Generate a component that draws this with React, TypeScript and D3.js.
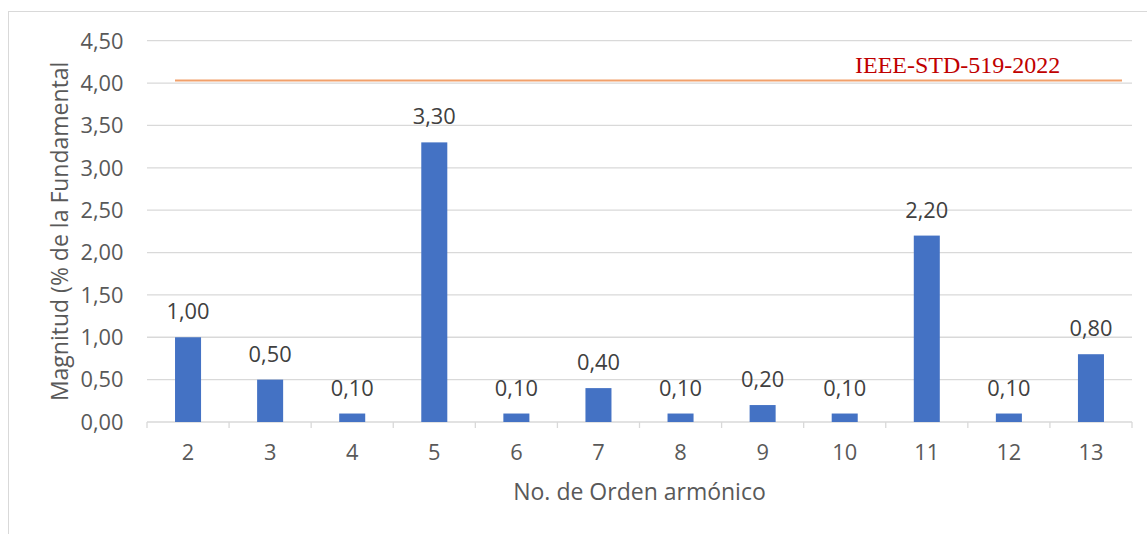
import React from "react";
import * as d3 from "d3";

// Harmonic orders and their magnitudes (% of the fundamental)
const harmonicOrders: string[] = ["2", "3", "4", "5", "6", "7", "8", "9", "10", "11", "12", "13"];
const magnitudes: number[] = [1.0, 0.5, 0.1, 3.3, 0.1, 0.4, 0.1, 0.2, 0.1, 2.2, 0.1, 0.8];
const yTicks: number[] = [0, 0.5, 1, 1.5, 2, 2.5, 3, 3.5, 4, 4.5];
const limitValue = 4.03;
const limitLabel = "IEEE-STD-519-2022";
const yTitle = "Magnitud (% de la Fundamental";
const xTitle = "No. de Orden armónico";

const W = 1147;
const H = 534;
const plot = { left: 147, right: 1132, top: 40.7, bottom: 422 };

const locale = d3.formatLocale({ decimal: ",", thousands: ".", grouping: [3], currency: ["", ""] });
const fmt = locale.format(".2f");

const FONT = "'Open Sans', 'Noto Sans', sans-serif";
const TEXT = "#595959";
const GRID = "#D9D9D9";
const TICK_SIZE = 21.8;
const TITLE_SIZE = 23;

export default function App() {
  const x = d3.scaleBand<string>().domain(harmonicOrders).range([plot.left, plot.right]).padding(0);
  const y = d3.scaleLinear().domain([0, 4.5]).range([plot.bottom, plot.top]);
  const slot = x.bandwidth();
  const barW = slot * 0.317;

  const boundaries = d3.range(harmonicOrders.length + 1).map((i) => plot.left + i * slot);

  return (
    <svg
      width={W}
      height={H}
      style={{ position: "absolute", left: 0, top: 0, display: "block", background: "#fff" }}
    >
      <rect x={8.5} y={11.5} width={W + 20} height={H + 20} fill="#fff" stroke={GRID} strokeWidth={1} />

      {/* horizontal gridlines and value axis labels */}
      {yTicks.map((t) => (
        <g key={t}>
          {t > 0 && (
            <line x1={plot.left} x2={plot.right} y1={y(t)} y2={y(t)} stroke={GRID} strokeWidth={1.3} />
          )}
          <text
            x={123.5}
            y={y(t)}
            dy="0.36em"
            textAnchor="end"
            fontFamily={FONT}
            fontSize={TICK_SIZE}
            fill={TEXT}
          >
            {fmt(t)}
          </text>
        </g>
      ))}

      {/* category axis */}
      <line x1={plot.left} x2={plot.right} y1={plot.bottom} y2={plot.bottom} stroke={GRID} strokeWidth={1.3} />
      {boundaries.map((bx, i) => (
        <line key={i} x1={bx} x2={bx} y1={plot.bottom} y2={plot.bottom + 6} stroke={GRID} strokeWidth={1.3} />
      ))}
      {harmonicOrders.map((c) => (
        <text
          key={c}
          x={(x(c) as number) + slot / 2}
          y={460}
          textAnchor="middle"
          fontFamily={FONT}
          fontSize={TICK_SIZE}
          fill={TEXT}
        >
          {c}
        </text>
      ))}

      {/* bars with value labels */}
      {harmonicOrders.map((c, i) => {
        const cx = (x(c) as number) + slot / 2;
        const v = magnitudes[i];
        return (
          <g key={c}>
            <rect x={cx - barW / 2} y={y(v)} width={barW} height={plot.bottom - y(v)} fill="#4472C4" />
            <text
              x={cx}
              y={y(v) - 18}
              textAnchor="middle"
              fontFamily={FONT}
              fontSize={TICK_SIZE}
              fill="#404040"
            >
              {fmt(v)}
            </text>
          </g>
        );
      })}

      {/* standard limit line */}
      <line x1={175} x2={1122} y1={y(limitValue)} y2={y(limitValue)} stroke="#F1A06B" strokeWidth={2} />
      <text x={855} y={73} fontFamily="'Liberation Serif', 'Times New Roman', serif" fontSize={24} fill="#C00000">
        {limitLabel}
      </text>

      {/* axis titles */}
      <text
        transform={`translate(68, ${(plot.top + plot.bottom) / 2}) rotate(-90)`}
        textAnchor="middle"
        fontFamily={FONT}
        fontSize={TITLE_SIZE}
        fill={TEXT}
      >
        {yTitle}
      </text>
      <text
        x={(plot.left + plot.right) / 2}
        y={500}
        textAnchor="middle"
        fontFamily={FONT}
        fontSize={TITLE_SIZE}
        fill={TEXT}
      >
        {xTitle}
      </text>
    </svg>
  );
}
